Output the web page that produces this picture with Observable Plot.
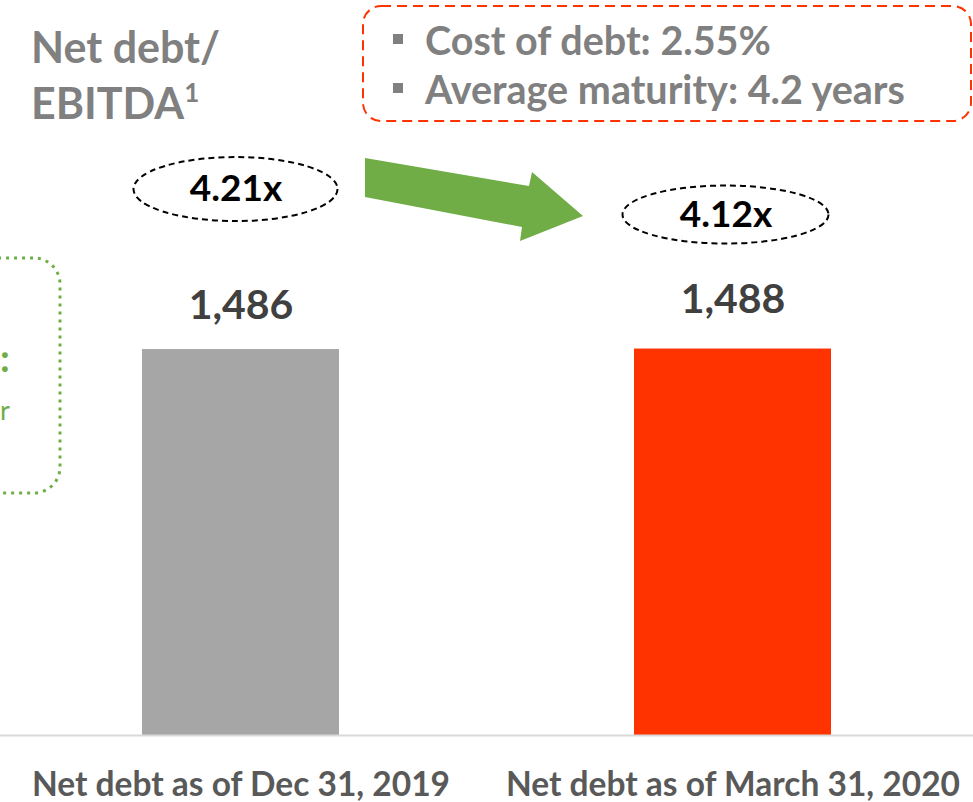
<!DOCTYPE html>
<html>
<head>
<meta charset="utf-8">
<script src="https://cdn.jsdelivr.net/npm/d3@7"></script>
<script src="https://cdn.jsdelivr.net/npm/@observablehq/plot@0.6"></script>
<style>
  html, body { margin: 0; padding: 0; background: #fff; }
  #chart svg { display: block; font-family: Lato, "Open Sans", sans-serif; }
</style>
</head>
<body>
<div id="chart"></div>
<script>
// ---- data ----
const categories = ["Net debt as of Dec 31, 2019", "Net debt as of March 31, 2020"];
const netDebt = [1486, 1488];
const ratioLabels = ["4.21x", "4.12x"];
const barColors = ["#a6a6a6", "#ff3300"];
const titleLines = ["Net debt/", "EBITDA"];
const infoLines = ["Cost of debt: 2.55%", "Average maturity: 4.2 years"];
const sideFragments = [":", "r"];

const data = categories.map((c, i) => ({cat: c, value: netDebt[i], ratio: ratioLabels[i], color: barColors[i], i}));

const W = 973, H = 802;
const font = "Lato, 'Open Sans', sans-serif";

const chart = Plot.plot({
  width: W,
  height: H,
  marginTop: 0,
  marginBottom: 67,
  marginLeft: 0,
  marginRight: 0,
  style: {fontFamily: font, background: "#fff"},
  x: {domain: categories, paddingInner: 0.6, paddingOuter: 0.287, label: null},
  y: {domain: [0, 2830], axis: null},
  marks: [
    Plot.barY(data, {x: "cat", y: "value", fill: "color"}),
    Plot.ruleY([0], {stroke: "#d9d9d9", strokeWidth: 2}),
    Plot.text(data.filter(d => d.i === 0), {x: "cat", y: "value", text: d => d3.format(",")(d.value), dy: -44, fontSize: 41, fontWeight: "bold", fill: "#404040"}),
    Plot.text(data.filter(d => d.i === 1), {x: "cat", y: "value", text: d => d3.format(",")(d.value), dy: -49, fontSize: 41, fontWeight: "bold", fill: "#404040"}),
    Plot.text(data.filter(d => d.i === 0), {x: "cat", y: "value", text: "ratio", dx: -5, dy: -160, fontSize: 37, fontWeight: "bold", fill: "#000"}),
    Plot.text(data.filter(d => d.i === 1), {x: "cat", y: "value", text: "ratio", dx: -7, dy: -134, fontSize: 37, fontWeight: "bold", fill: "#000"}),
    Plot.axisX({tickSize: 0, tickPadding: 37, fontSize: 33.5, fontWeight: "bold", fill: "#595959"})
  ]
});

document.getElementById("chart").appendChild(chart);

// ---- annotations ----
const svg = d3.select(chart);
const xs = chart.scale("x");
const ys = chart.scale("y");
const bw = xs.bandwidth;

// ellipses around the ratios
const ell = [{dx: -5, dy: -160, rx: 102, ry: 32}, {dx: -7, dy: -134, rx: 103, ry: 29}];
data.forEach((d, k) => {
  const cx = xs.apply(d.cat) + bw / 2 + ell[k].dx;
  const cy = ys.apply(d.value) + ell[k].dy;
  svg.insert("ellipse", ":first-child")
    .attr("cx", cx).attr("cy", cy).attr("rx", ell[k].rx).attr("ry", ell[k].ry)
    .attr("fill", "none").attr("stroke", "#000").attr("stroke-width", 2)
    .attr("stroke-dasharray", "6,4");
});

const g = svg.append("g").attr("text-anchor", "start");

// title
const title = g.append("text").attr("font-family", font).attr("font-weight", "bold")
  .attr("font-size", 43).attr("fill", "#808080").attr("text-anchor", "start");
title.append("tspan").attr("x", 31).attr("y", 63).text(titleLines[0]);
title.append("tspan").attr("x", 31).attr("y", 119).text(titleLines[1]);
title.append("tspan").attr("font-size", 26).attr("dy", -17).text("1");

// dashed info box
g.append("rect").attr("x", 363).attr("y", 6).attr("width", 608).attr("height", 115)
  .attr("rx", 18).attr("fill", "none").attr("stroke", "#ff3300").attr("stroke-width", 2)
  .attr("stroke-dasharray", "10,6");
infoLines.forEach((t, k) => {
  const base = 55 + k * 49;
  g.append("rect").attr("x", 393).attr("y", base - 21).attr("width", 10).attr("height", 10).attr("fill", "#808080");
  g.append("text").attr("x", 425).attr("y", base).attr("font-family", font).attr("font-weight", "bold")
    .attr("text-anchor", "start").attr("font-size", 39.5).attr("fill", "#808080").text(t);
});

// green dotted box (cut off at the left)
g.append("rect").attr("x", -300).attr("y", 258).attr("width", 360).attr("height", 235)
  .attr("rx", 26).attr("fill", "none").attr("stroke", "#70ad47").attr("stroke-width", 3)
  .attr("stroke-dasharray", "3,5");
g.append("text").attr("x", 0).attr("y", 372).attr("text-anchor", "start").attr("font-family", font)
  .attr("font-weight", "bold").attr("font-size", 38).attr("fill", "#70ad47").text(sideFragments[0]);
g.append("text").attr("x", 0).attr("y", 420).attr("text-anchor", "start").attr("font-family", font)
  .attr("font-size", 27).attr("fill", "#70ad47").text(sideFragments[1]);

// green arrow
const arrow = [[365,158],[529,186],[532,172],[583,216],[520,241],[522,227],[365,197]];
g.append("path").attr("d", "M" + arrow.map(p => p.join(",")).join("L") + "Z").attr("fill", "#70ad47");
</script>
</body>
</html>
